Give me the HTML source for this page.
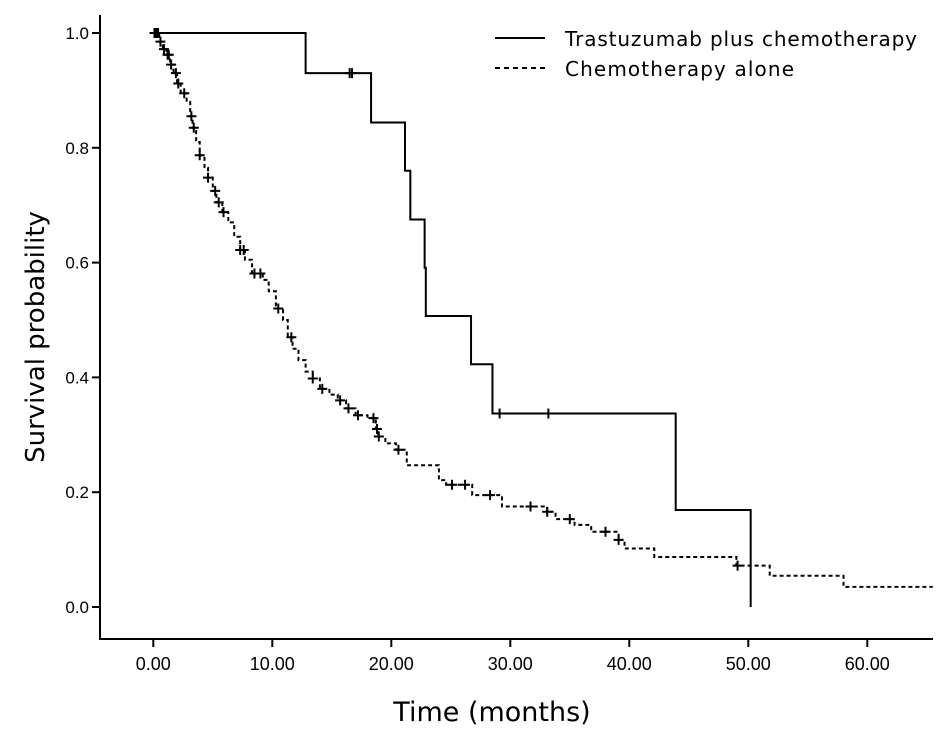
<!DOCTYPE html>
<html><head><meta charset="utf-8"><style>
html,body{margin:0;padding:0;background:#fff;}
svg{display:block;font-family:"Liberation Sans",sans-serif;}
</style></head><body>
<svg id="chart" width="945" height="739" viewBox="0 0 945 739" xmlns="http://www.w3.org/2000/svg">
<g id="axes"></g>
<g id="series"></g>
<g>
  <line x1="495" y1="38" x2="545" y2="38" stroke="#000" stroke-width="2"/>
  <text x="565" y="46" font-size="20" font-family="'DejaVu Sans',sans-serif" textLength="352">Trastuzumab plus chemotherapy</text>
  <line x1="495" y1="68" x2="545" y2="68" stroke="#000" stroke-width="2" stroke-dasharray="5,4"/>
  <text x="565" y="76" font-size="20" font-family="'DejaVu Sans',sans-serif" textLength="229">Chemotherapy alone</text>
</g>
<text transform="translate(44,337) rotate(-90)" text-anchor="middle" font-size="26" font-family="'DejaVu Sans',sans-serif">Survival probability</text>
<text x="492" y="721" text-anchor="middle" font-size="27" font-family="'DejaVu Sans',sans-serif">Time (months)</text>
</svg>
<script>
const xTicks = [0, 10, 20, 30, 40, 50, 60];
const xTickLabels = ["0.00", "10.00", "20.00", "30.00", "40.00", "50.00", "60.00"];
const yTicks = [0, 0.2, 0.4, 0.6, 0.8, 1.0];
const yTickLabels = ["0.0", "0.2", "0.4", "0.6", "0.8", "1.0"];

const trastTimes = [12.8, 18.3, 21.15, 21.6, 22.8, 22.9, 26.7, 28.5, 43.9, 50.2];
const trastValues = [0.930, 0.844, 0.760, 0.675, 0.591, 0.507, 0.423, 0.337, 0.169, 0.0];
const trastCensor = [16.5, 16.7, 29.1, 33.2];
const trastEnd = 50.2;

const chemoTimes = [0.5,0.8,1.1,1.4,1.7,2.0,2.3,2.8,3.1,3.3,3.6,3.9,4.3,4.6,5.0,5.3,5.8,6.3,6.8,7.3,7.7,8.3,9.2,9.7,10.3,10.9,11.3,11.7,12.2,12.8,13.4,14.0,14.8,15.5,16.2,17.0,18.0,18.7,18.9,19.5,20.4,21.3,24.0,24.6,26.8,29.3,33.1,33.8,35.4,36.8,39.1,39.6,42.1,49.0,51.8,58.0];
const chemoValues = [0.985,0.972,0.962,0.945,0.930,0.912,0.895,0.880,0.855,0.835,0.81,0.787,0.765,0.748,0.725,0.705,0.688,0.67,0.645,0.622,0.605,0.581,0.57,0.55,0.52,0.50,0.47,0.45,0.43,0.41,0.398,0.38,0.37,0.36,0.346,0.334,0.329,0.31,0.297,0.285,0.274,0.247,0.221,0.213,0.195,0.175,0.166,0.153,0.143,0.131,0.117,0.102,0.087,0.072,0.0545,0.035];
const chemoCensor = [0.1,0.2,0.3,0.4,0.6,0.9,1.2,1.3,1.5,1.9,2.1,2.6,3.2,3.4,3.9,4.6,5.2,5.5,5.9,7.3,7.6,8.5,9.0,10.5,11.6,13.4,14.2,15.7,16.4,17.2,18.5,18.8,18.95,20.6,25.1,26.2,28.3,31.7,33.1,35.0,38.0,39.1,49.1];
const chemoEnd = 65.5;

const NS = "http://www.w3.org/2000/svg";
function xs(t){ return 153.3 + 11.9 * t; }
function ys(v){ return 607 - 574 * v; }
function mk(tag, attrs, parent){
  const el = document.createElementNS(NS, tag);
  for (const k in attrs) el.setAttribute(k, attrs[k]);
  parent.appendChild(el);
  return el;
}
const axes = document.getElementById('axes');
const series = document.getElementById('series');

let el = mk('line', {x1:100, y1:15, x2:100, y2:639, stroke:'#000', 'stroke-width':2}, axes);


el = mk('line', {x1:99, y1:639, x2:933, y2:639, stroke:'#000', 'stroke-width':2}, axes);



xTicks.forEach((t, i) => {
  const x = xs(t);
  const tk = mk('line', {x1:x, y1:639, x2:x, y2:647, stroke:'#000', 'stroke-width':2}, axes);
  
  
  const lb = mk('text', {x:x, y:670, 'text-anchor':'middle', 'font-size':18}, axes);
  lb.textContent = xTickLabels[i];
  
  
});
yTicks.forEach((v, i) => {
  const y = ys(v);
  const tk = mk('line', {x1:92, y1:y, x2:100, y2:y, stroke:'#000', 'stroke-width':2}, axes);
  
  
  const lb = mk('text', {x:89, y:y+6, 'text-anchor':'end', 'font-size':17}, axes);
  lb.textContent = yTickLabels[i];
  
  
});

function survAt(times, values, t){
  let v = 1;
  for (let i = 0; i < times.length; i++) if (times[i] <= t) v = values[i];
  return v;
}
function drawCurve(times, values, end, censor, dash, name){
  let d = 'M' + xs(0) + ',' + ys(1);
  for (let i = 0; i < times.length; i++){
    d += ' H' + xs(times[i]) + ' V' + ys(values[i]);
  }
  d += ' H' + xs(end);
  const p = mk('path', {d:d, fill:'none', stroke:'#000', 'stroke-width':2}, series);
  if (dash) p.setAttribute('stroke-dasharray', dash);
  
  
  censor.forEach(t => {
    const x = xs(t), y = ys(survAt(times, values, t));
    const c = mk('path', {d:'M'+(x-5)+','+y+' H'+(x+5)+' M'+x+','+(y-5)+' V'+(y+5), stroke:'#000', 'stroke-width':2, fill:'none'}, series);
    
    
  });
}
drawCurve(trastTimes, trastValues, trastEnd, trastCensor, null, 'trastuzumab');
drawCurve(chemoTimes, chemoValues, chemoEnd, chemoCensor, '4,3', 'chemo');
</script>
</body></html>
